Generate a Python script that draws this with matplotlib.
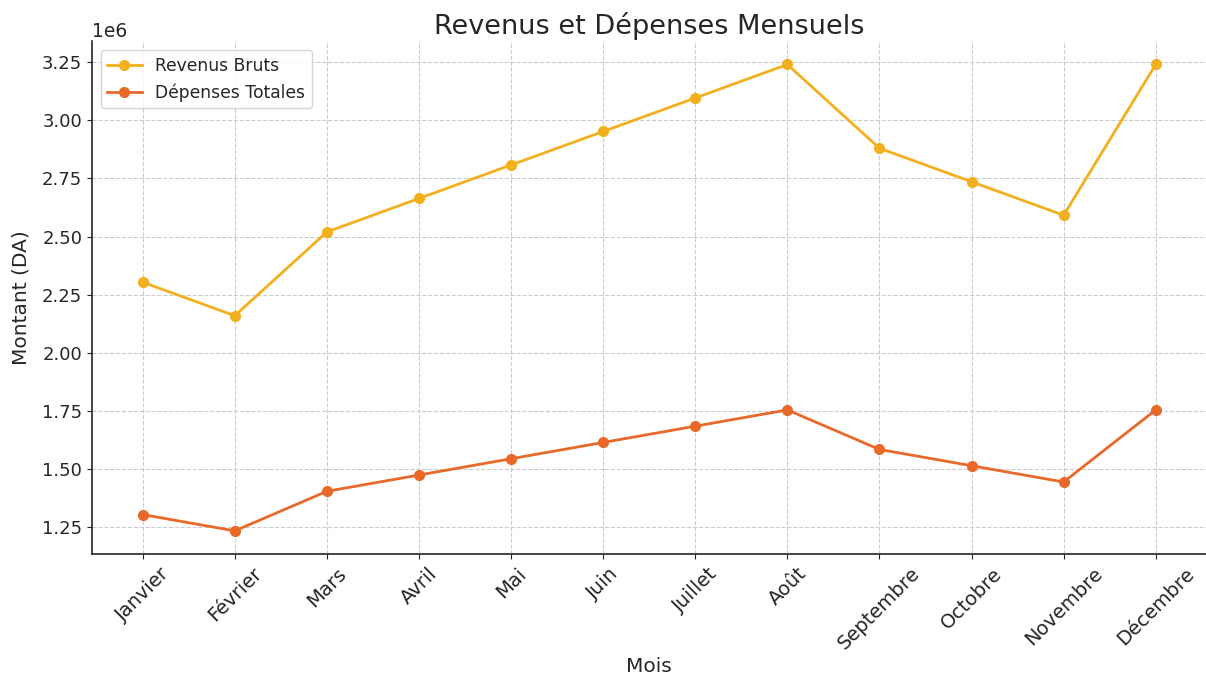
import matplotlib
matplotlib.use("Agg")
import matplotlib.pyplot as plt

mois = ["Janvier", "Février", "Mars", "Avril", "Mai", "Juin",
        "Juillet", "Août", "Septembre", "Octobre", "Novembre", "Décembre"]
revenus = [2304000, 2160000, 2520000, 2664000, 2808000, 2952000,
           3096000, 3240000, 2880000, 2736000, 2592000, 3240000]
depenses = [1305000, 1235000, 1405000, 1475000, 1545000, 1615000,
            1685000, 1755000, 1585000, 1515000, 1445000, 1755000]

plt.rcParams["text.color"] = "#262626"
plt.rcParams["axes.labelcolor"] = "#262626"
plt.rcParams["xtick.color"] = "#262626"
plt.rcParams["ytick.color"] = "#262626"

fig = plt.figure(figsize=(12.06, 6.75), dpi=100)
ax = fig.add_axes([0.0763, 0.179, 0.924, 0.76])

ax.plot(mois, revenus, marker="o", color="#f2b01e", lw=2, ms=7, label="Revenus Bruts")
ax.plot(mois, depenses, marker="o", color="#e8692a", lw=2, ms=7, label="Dépenses Totales")

ax.set_title("Revenus et Dépenses Mensuels", fontsize=19.5, pad=5)
ax.set_xlabel("Mois", fontsize=14.5, labelpad=3)
ax.set_ylabel("Montant (DA)", fontsize=14.5, labelpad=8)
ax.tick_params(axis="y", labelsize=13)
ax.tick_params(axis="x", labelsize=14)
ax.yaxis.get_offset_text().set_fontsize(13.5)
plt.setp(ax.get_xticklabels(), rotation=45)

ax.grid(True, linestyle="--", color="#cccccc", lw=0.8)
ax.spines["top"].set_visible(False)
ax.spines["right"].set_visible(False)
ax.spines["left"].set_color("#262626")
ax.spines["bottom"].set_color("#262626")
ax.spines["left"].set_linewidth(1.2)
ax.spines["bottom"].set_linewidth(1.2)

ax.legend(loc="upper left", fontsize=12.3)

fig.savefig("out.png", dpi=100)
